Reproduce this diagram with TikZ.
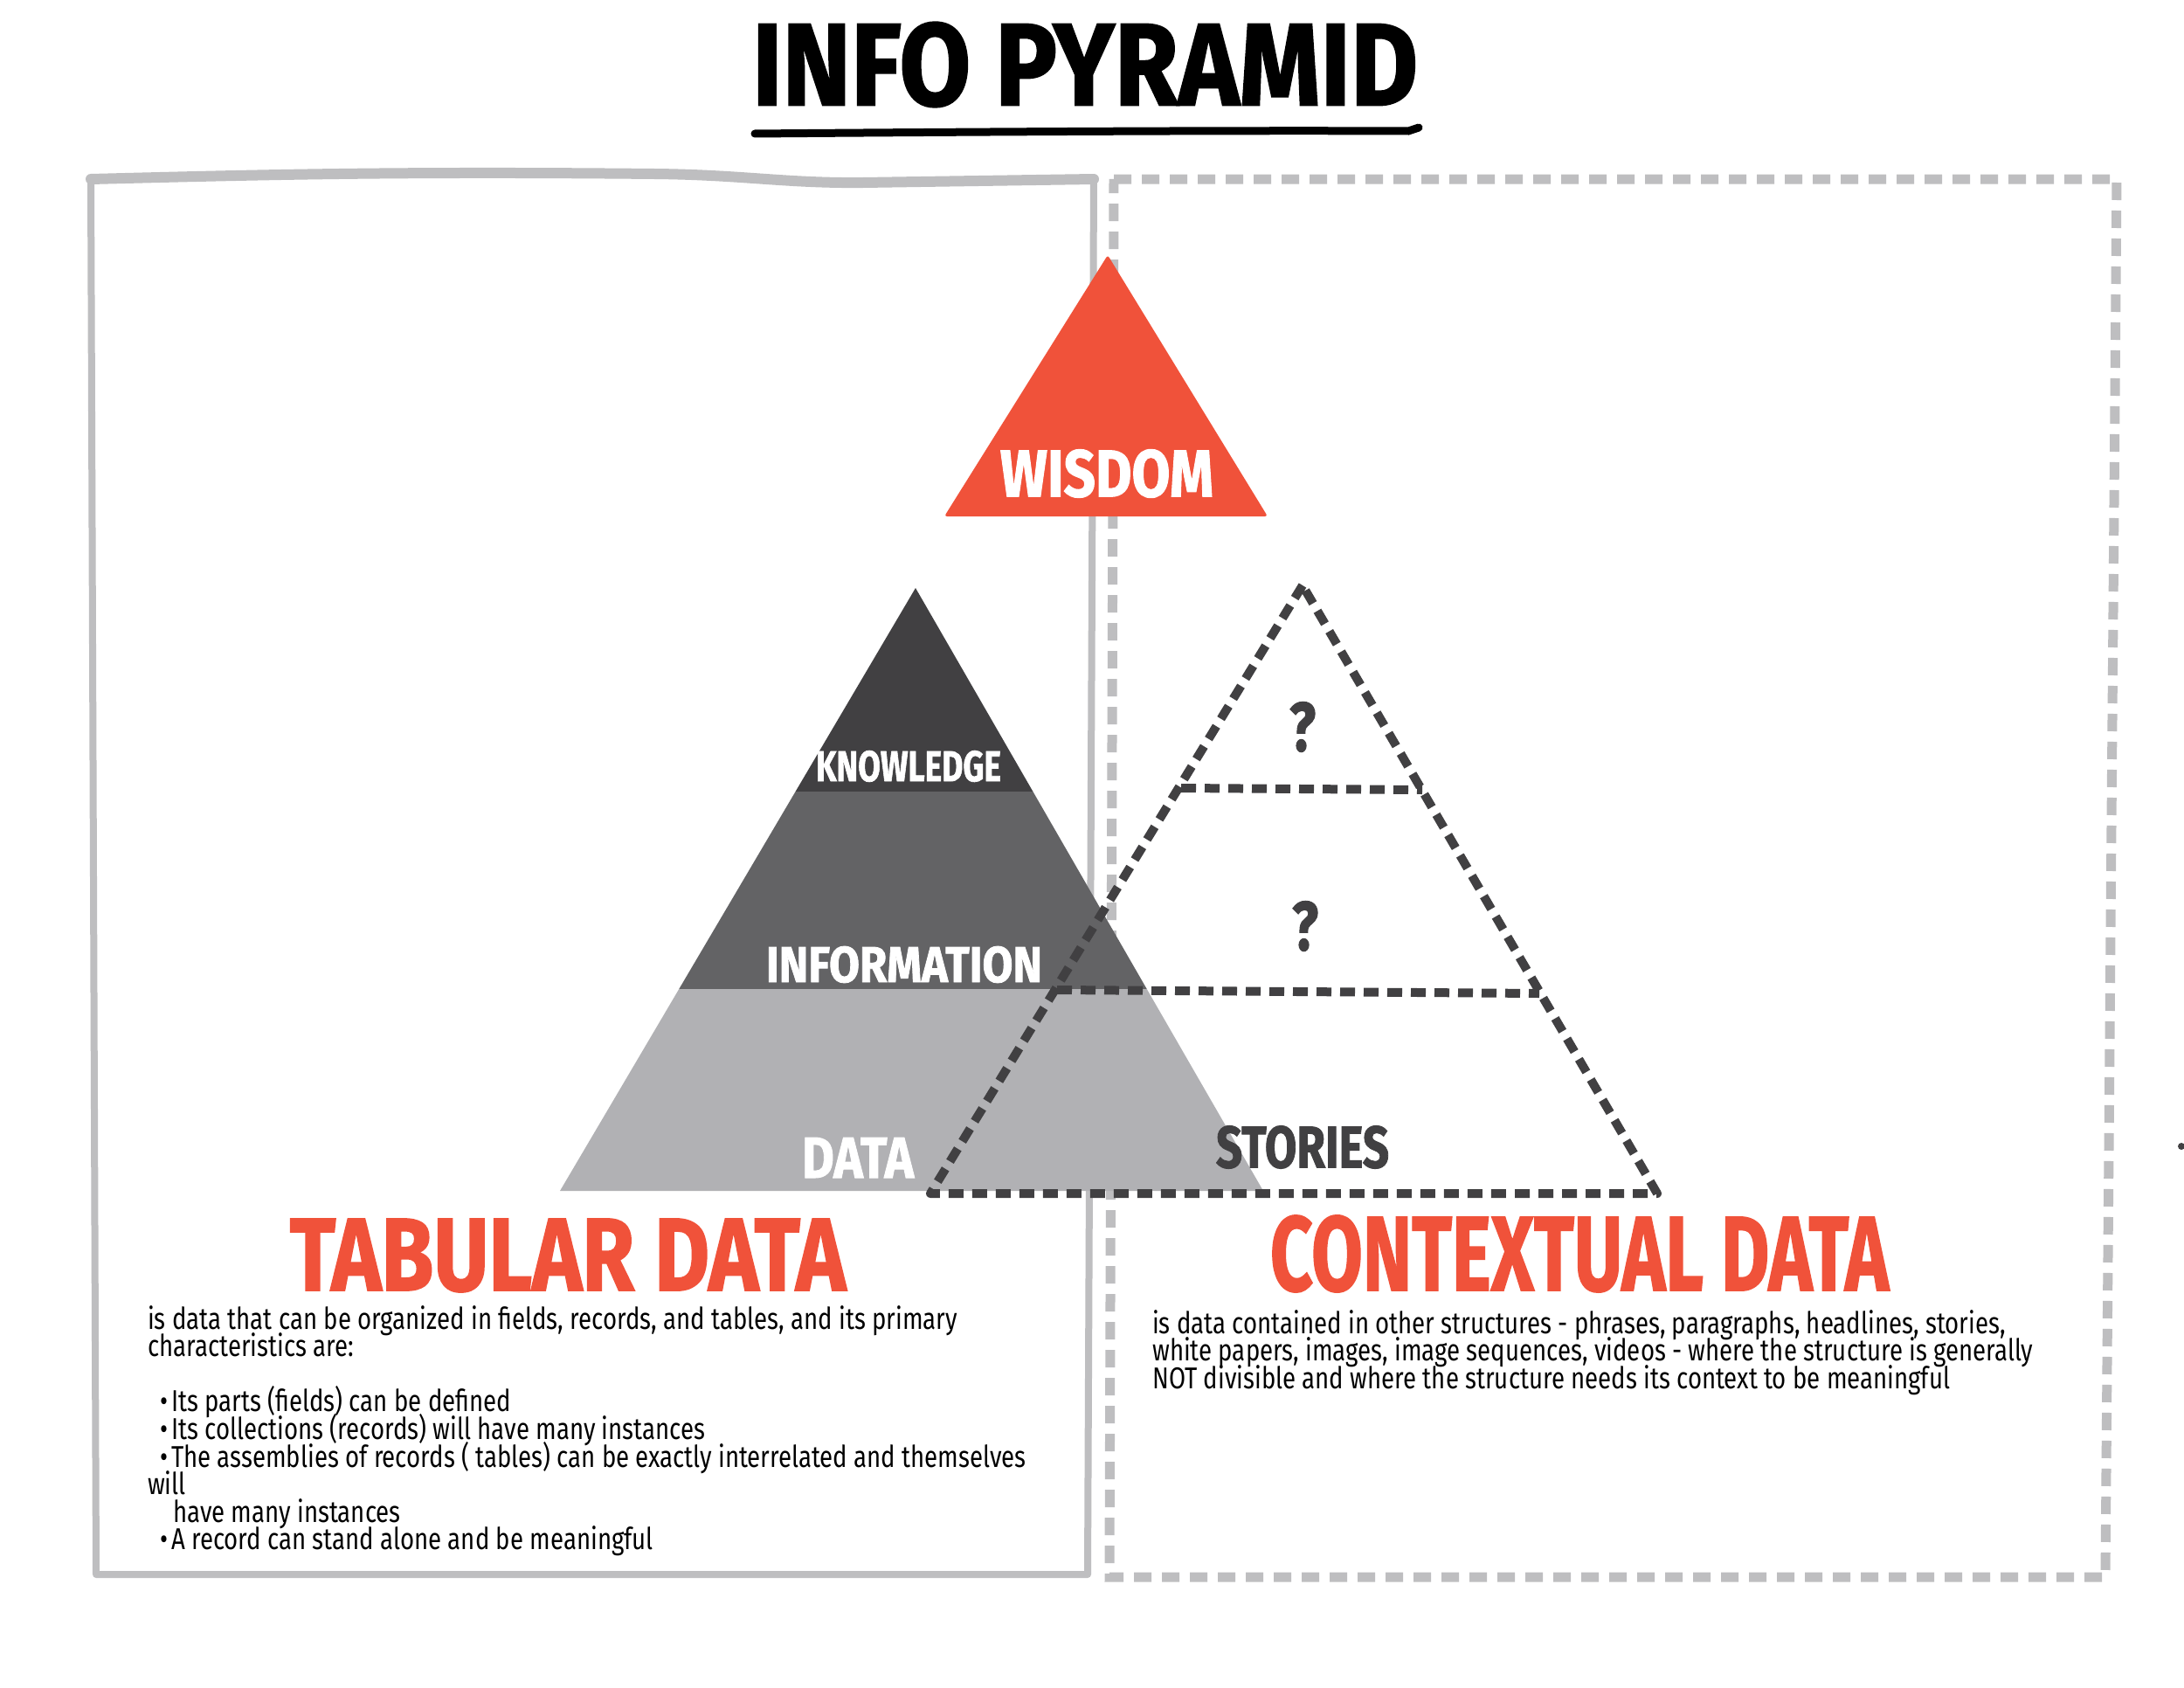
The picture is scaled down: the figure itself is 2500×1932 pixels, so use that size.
\documentclass[tikz,border=0pt]{standalone}
\usepackage{fontspec}
\setmainfont{Fira Sans}
\newfontfamily\bodyfont{Fira Sans}[FakeStretch=0.8]
\newfontfamily\handfont{Fira Sans}[BoldFeatures={FakeBold=1.5}]
\definecolor{pyrred}{RGB}{240,82,58}
\definecolor{pyrdark}{RGB}{65,64,66}
\definecolor{pyrmid}{RGB}{99,99,101}
\definecolor{pyrlight}{RGB}{177,177,180}
\definecolor{boxgray}{RGB}{190,190,192}
\newcommand{\handtext}[3]{\resizebox{#1pt}{#2pt}{\handfont\bfseries #3}}
\newcommand{\tightlines}{\lineskiplimit=-100pt\relax\lineskip=0pt\relax}
\tikzset{
  hand/.style={inner sep=0pt},
  boxline/.style={draw=boxgray, line join=round},
  dbox/.style={draw=boxgray, line width=11pt, dash pattern=on 20pt off 12pt},
  dtri/.style={draw=pyrdark, line width=10pt, dash pattern=on 17pt off 10pt},
  bodytext/.style={inner sep=0pt, align=left, anchor=north west,
     font=\bodyfont\fontsize{34.5}{31.6}\selectfont\tightlines}
}
\begin{document}
\begin{tikzpicture}[x=1pt,y=-1pt]
\useasboundingbox[fill=white] (0,0) rectangle (2500,1932);

% ---- boxes ----
\coordinate (lbTL) at (104,205);
\coordinate (lbBL) at (110,1802);
\coordinate (lbBR) at (1245,1802);
\coordinate (lbTR) at (1252,205);
\draw[boxline, line width=8pt] (lbTL) -- (lbBL) -- (lbBR) -- (lbTR);
\draw[boxline, line width=12pt, line cap=round] (lbTL) .. controls (300,200) and (450,196) .. (749,199) .. controls (850,200) and (900,210) .. (988,209) -- (lbTR);

\coordinate (rbTL) at (1275,205);
\coordinate (rbTR) at (2423,205);
\coordinate (rbBR) at (2410,1805);
\coordinate (rbBL) at (1270,1805);
\draw[dbox] (rbTL) -- (rbTR) -- (rbBR) -- (rbBL) -- cycle;

% ---- wisdom triangle ----
\coordinate (wA) at (1268,292);
\coordinate (wL) at (1081,591);
\coordinate (wR) at (1451,591);
\fill[pyrred, rounded corners=3pt] (wA) -- (wL) -- (wR) -- cycle;

% ---- gray pyramid ----
\coordinate (gA) at (1048,673);
\coordinate (gL) at (641,1363);
\coordinate (gR) at (1446,1363);
\begin{scope}
\clip (gA) -- (gL) -- (gR) -- cycle;
\fill[pyrlight] (600,1132) rectangle (1500,1400);
\fill[pyrmid] (600,906) rectangle (1500,1132);
\fill[pyrdark] (600,600) rectangle (1500,906);
\end{scope}

% ---- dashed pyramid ----
\coordinate (dA) at (1491,670);
\coordinate (dL) at (1065,1366);
\coordinate (dR) at (1897,1366);
\coordinate (d1l) at (1352,902);
\coordinate (d1r) at (1628,904);
\coordinate (d2l) at (1210,1133);
\coordinate (d2r) at (1762,1137);
\draw[dtri, line join=round] (dA) -- (dL) -- (dR) -- cycle;
\draw[dtri] (d1l) -- (d1r);
\draw[dtri] (d2l) -- (d2r);

% ---- labels ----
\node[hand, text=white] (wisdom) at (1267,542) {\handtext{244}{54}{WISDOM}};
\node[hand, text=white] (knowledge) at (1040,877) {\handtext{212}{35}{KNOWLEDGE}};
\node[hand, text=white] (information) at (1035,1104) {\handtext{316}{41}{INFORMATION}};
\node[hand, text=white] (data) at (982,1325) {\handtext{128}{46}{DATA}};
\node[hand, text=pyrdark] (q1) at (1491,832) {\handtext{30}{56}{?}};
\node[hand, text=pyrdark] (q2) at (1494,1060) {\handtext{30}{56}{?}};
\node[hand, text=pyrdark] (stories) at (1491,1313) {\handtext{198}{48}{STORIES}};

% ---- title ----
\node[hand, text=black] (title) at (1242,74) {\handtext{762}{95}{INFO PYRAMID}};
\coordinate (ulA) at (864,153);
\coordinate (ulB) at (1624,146);
\draw[line width=9pt, line cap=round] (ulA) .. controls (1100,151) and (1400,149) .. (1612,150) -- (ulB);

% ---- headings ----
\node[hand, text=pyrred] (tabular) at (650,1437) {\handtext{636}{82}{TABULAR DATA}};
\node[hand, text=pyrred] (contextual) at (1808,1435) {\handtext{708}{86}{CONTEXTUAL DATA}};

% ---- body texts ----
\node[bodytext] (tabtext) at (169,1494) {is data that can be organized in fields, records, and tables, and its primary\\
characteristics are:\\[31.6pt]
\hspace*{14pt}•\hspace{4pt}Its parts (fields) can be defined\\
\hspace*{14pt}•\hspace{4pt}Its collections (records) will have many instances\\
\hspace*{14pt}•\hspace{4pt}The assemblies of records ( tables) can be exactly interrelated and themselves\\
will\\
\hspace*{29pt}have many instances\\
\hspace*{14pt}•\hspace{4pt}A record can stand alone and be meaningful};

\node[bodytext] (contexttext) at (1319,1499) {is data contained in other structures - phrases, paragraphs, headlines, stories,\\
white papers, images, image sequences, videos - where the structure is generally\\
NOT divisible and where the structure needs its context to be meaningful};

% small mark at right edge
\fill[pyrdark] (2497,1312) circle (4);
\end{tikzpicture}
\end{document}
